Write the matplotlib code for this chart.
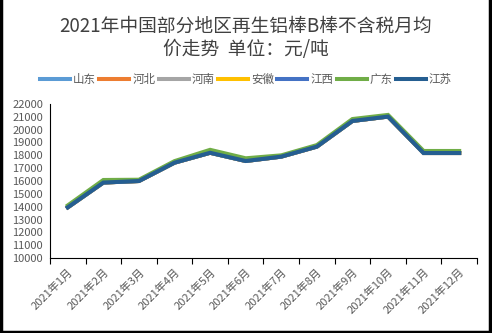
import numpy as np
import matplotlib
matplotlib.use("Agg")
import matplotlib.pyplot as plt
from matplotlib.lines import Line2D

plt.rcParams['font.family'] = ['Noto Sans CJK SC', 'DejaVu Sans']

# data (yuan/ton)
months = ["2021年1月", "2021年2月", "2021年3月", "2021年4月", "2021年5月", "2021年6月",
          "2021年7月", "2021年8月", "2021年9月", "2021年10月", "2021年11月", "2021年12月"]
shandong = [13950, 15880, 16000, 17430, 18200, 17560, 17900, 18680, 20680, 21020, 18180, 18180]
hebei = [13950, 15880, 16000, 17430, 18200, 17560, 17900, 18680, 20680, 21020, 18180, 18180]
henan = [13950, 15880, 16000, 17430, 18200, 17560, 17900, 18680, 20680, 21020, 18180, 18180]
anhui = [13950, 15880, 16000, 17430, 18200, 17560, 17900, 18680, 20680, 21020, 18180, 18180]
jiangxi = [13950, 15880, 16000, 17430, 18200, 17560, 17900, 18680, 20680, 21020, 18180, 18180]
guangdong = [14100, 16080, 16100, 17550, 18430, 17770, 18000, 18800, 20830, 21150, 18340, 18340]
jiangsu = [13950, 15880, 16000, 17430, 18200, 17560, 17900, 18680, 20680, 21020, 18180, 18180]

series_names = ["山东", "河北", "河南", "安徽", "江西", "广东", "江苏"]
series_vals = [shandong, hebei, henan, anhui, jiangxi, guangdong, jiangsu]
colors = ["#5B9BD5", "#ED7D31", "#A5A5A5", "#FFC000", "#4472C4", "#70AD47", "#255E91"]

fig = plt.figure(figsize=(4.92, 3.33), dpi=100)
ax = fig.add_axes([0.1016, 0.2252, 0.8679, 0.4625])

x = np.arange(len(months))
for name, vals, c in zip(series_names, series_vals, colors):
    ax.plot(x, vals, color=c, lw=2.9, label=name, solid_joinstyle='miter')

ax.set_ylim(10000, 22000)
ax.set_yticks(np.arange(10000, 22001, 1000))
ax.set_xlim(-0.5, len(months) - 0.5)
ax.set_xticks(np.arange(-0.5, len(months), 1))
ax.set_xticklabels([])
ax.set_xticks(x, months, minor=True)
ax.tick_params(axis='x', which='major', length=4, width=0.8, direction='out', color='black')
ax.tick_params(axis='x', which='minor', length=0, labelsize=8, labelcolor='#595959', pad=6)
for lab in ax.get_xticklabels(minor=True):
    lab.set_rotation(45)
    lab.set_ha('right')
    lab.set_rotation_mode('anchor')
ax.tick_params(axis='y', length=0, labelsize=8, labelcolor='#595959', pad=5)

ax.spines['top'].set_visible(False)
ax.spines['right'].set_visible(False)
ax.spines['left'].set_color('black')
ax.spines['bottom'].set_color('black')
ax.spines['left'].set_linewidth(0.8)
ax.spines['bottom'].set_linewidth(0.8)

fig.text(0.5, 0.922, "2021年中国部分地区再生铝棒B棒不含税月均", ha='center', va='center',
         fontsize=13.5, color='#404040')
fig.text(0.5, 0.852, "价走势  单位：元/吨", ha='center', va='center',
         fontsize=13.5, color='#404040')

fig.legend(loc='center', bbox_to_anchor=(0.5, 0.762), ncol=7, frameon=False,
           fontsize=8.3, handlelength=2.6, handletextpad=0.25, columnspacing=0.3,
           labelcolor='#595959')

# dark frame on left, right and bottom edges like the screenshot
for xs, ys in [([0.002, 0.002], [0, 1]), ([0.996, 0.996], [0, 1]), ([0, 1], [0.004, 0.004])]:
    fig.add_artist(Line2D(xs, ys, transform=fig.transFigure, color='black', lw=2.5))

fig.savefig("out.png", dpi=100)
